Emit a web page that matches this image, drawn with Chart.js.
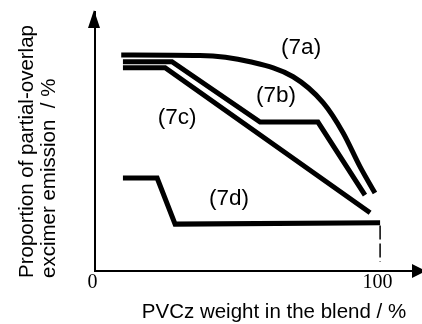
<!DOCTYPE html>
<html><head><meta charset="utf-8">
<script src="https://cdn.jsdelivr.net/npm/chart.js@4/dist/chart.umd.min.js"></script>
<style>html,body{margin:0;padding:0;background:#fff;}#wrap{width:422px;height:324px;}</style>
</head><body><div id="wrap"><canvas id="c" width="422" height="324"></canvas></div>
<script>
// ---- data ----
const xTicks = [0, 100];
const xTitle = "PVCz weight in the blend / %";
const yTitleLines = ["Proportion of partial-overlap", "excimer emission  / %"];

const curve7aX = [9.2, 36.8, 54.4, 69.5, 80.0, 87.0, 93.0, 98.2];
const curve7aY = [83.4, 83.2, 80.8, 75.0, 65.0, 53.4, 40.2, 30.1];
const curve7bX = [9.8, 27.0, 57.9, 78.2, 94.7];
const curve7bY = [80.8, 80.8, 57.5, 57.5, 29.3];
const curve7cX = [9.8, 24.6, 96.5];
const curve7cY = [78.5, 78.5, 22.5];
const curve7dX = [9.8, 21.8, 28.1, 100];
const curve7dY = [35.9, 35.9, 18.1, 18.6];
const guideX = [100, 100];
const guideY = [17.6, 3.5];

const curveLabels = ["(7a)", "(7b)", "(7c)", "(7d)"];
const labelX = [72.3, 63.5, 28.8, 47.0];
const labelY = [86.1, 67.6, 59.1, 27.8];

const zip = (xs, ys) => xs.map((x, i) => ({x: x, y: ys[i]}));

const SANS = "'Liberation Sans', Arial, Helvetica, sans-serif";
const SERIF = "'Liberation Serif', 'Times New Roman', serif";

const decor = {
  id: 'decor',
  afterDraw(chart) {
    const ctx = chart.ctx;
    const xs = chart.scales.x, ys = chart.scales.y;
    const ca = chart.chartArea;
    ctx.save();
    ctx.fillStyle = '#000';
    // y arrow
    const ax = xs.getPixelForValue(0);
    ctx.beginPath();
    ctx.moveTo(ax - 1, ca.top - 2);
    ctx.lineTo(ax - 7, ca.top + 16);
    ctx.lineTo(ax + 5, ca.top + 16);
    ctx.closePath();
    ctx.fill();
    // x arrow
    const ay = ys.getPixelForValue(0);
    ctx.beginPath();
    ctx.moveTo(ca.right + 4, ay);
    ctx.lineTo(ca.right - 10, ay - 7);
    ctx.lineTo(ca.right - 10, ay + 7);
    ctx.closePath();
    ctx.fill();
    // curve labels
    ctx.font = "22.5px " + SANS;
    ctx.textAlign = 'center';
    ctx.textBaseline = 'middle';
    curveLabels.forEach((t, i) => {
      ctx.fillText(t, xs.getPixelForValue(labelX[i]), ys.getPixelForValue(labelY[i]));
    });
    // x title
    ctx.font = "20.5px " + SANS;
    ctx.textAlign = 'center';
    ctx.textBaseline = 'alphabetic';
    ctx.fillText(xTitle, 274, 318);
    // y title
    ctx.translate(0, 278);
    ctx.rotate(-Math.PI / 2);
    ctx.textAlign = 'left';
    ctx.textBaseline = 'middle';
    ctx.fillText(yTitleLines[0], 0, 27);
    ctx.fillText(yTitleLines[1], 0, 49);
    ctx.restore();
  }
};

const lineStyle = {borderColor: '#000', borderWidth: 5, pointRadius: 0, fill: false, tension: 0};

new Chart(document.getElementById('c'), {
  type: 'line',
  data: {
    datasets: [
      Object.assign({label: '7a', data: zip(curve7aX, curve7aY), cubicInterpolationMode: 'monotone'}, lineStyle),
      Object.assign({label: '7b', data: zip(curve7bX, curve7bY)}, lineStyle),
      Object.assign({label: '7c', data: zip(curve7cX, curve7cY)}, lineStyle),
      Object.assign({label: '7d', data: zip(curve7dX, curve7dY)}, lineStyle),
      {label: 'guide', data: zip(guideX, guideY), borderColor: '#000', borderWidth: 1.5, borderDash: [14, 4], pointRadius: 0, fill: false}
    ]
  },
  options: {
    responsive: false,
    animation: false,
    devicePixelRatio: 1,
    layout: {padding: {left: 95, right: 0, top: 12, bottom: 29}},
    plugins: {legend: {display: false}, tooltip: {enabled: false}},
    scales: {
      x: {
        type: 'linear', min: 0, max: 114.7,
        afterBuildTicks: (s) => { s.ticks = xTicks.map(v => ({value: v})); },
        grid: {display: false, drawTicks: false},
        border: {display: true, color: '#000', width: 2},
        ticks: {color: '#000', padding: 0, labelOffset: -2.5, maxRotation: 0, autoSkip: false,
          font: {family: SERIF, size: 20, lineHeight: 1.2}, callback: (v) => String(v)}
      },
      y: {
        type: 'linear', min: 0, max: 100,
        grid: {display: false, drawTicks: false},
        border: {display: true, color: '#000', width: 2},
        ticks: {display: false}
      }
    }
  },
  plugins: [decor]
});
</script></body></html>
